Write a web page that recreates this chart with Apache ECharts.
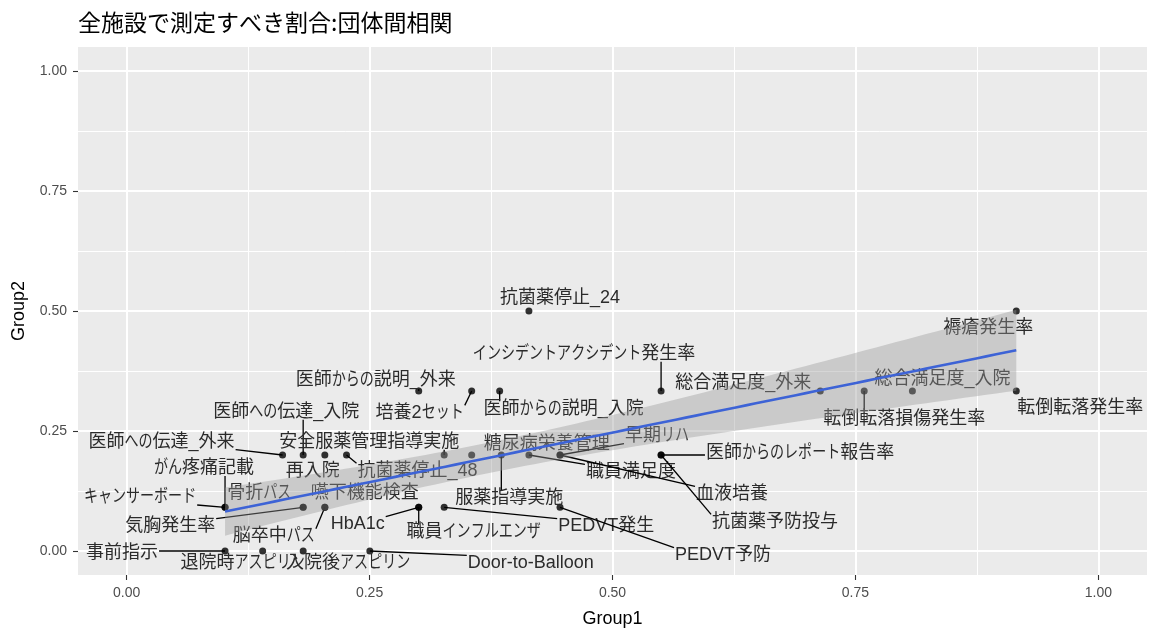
<!DOCTYPE html>
<html>
<head>
<meta charset="utf-8">
<script src="https://cdn.jsdelivr.net/npm/echarts@6/dist/echarts.min.js"></script>
<style>
  html, body { margin: 0; padding: 0; background: #ffffff; }
  #chart { width: 1152px; height: 630px; }
</style>
</head>
<body>
<div id="chart"></div>
<script>
// Indicators and their between-group proportions
const indicatorNames = [
  '抗菌薬停止_24', '褥瘡発生率', 'インシデントアクシデント発生率', '医師からの説明_外来',
  '培養2セット', '医師からの説明_入院', '総合満足度_外来', '転倒転落損傷発生率',
  '総合満足度_入院', '転倒転落発生率', '医師への伝達_入院', '医師への伝達_外来',
  '安全服薬管理指導実施', '糖尿病栄養管理', '早期リハ', '医師からのレポート報告率',
  '再入院', '抗菌薬停止_48', '職員満足度', '血液培養',
  'がん疼痛記載', '服薬指導実施', 'キャンサーボード', '骨折パス',
  '嚥下機能検査', '気胸発生率', 'HbA1c', '職員インフルエンザ',
  'PEDVT発生', 'PEDVT予防', '抗菌薬予防投与', '脳卒中パス',
  '事前指示', '退院時アスピリン', '入院後アスピリン', 'Door-to-Balloon'
];
const group1 = [
  0.414, 0.9155, 0.550, 0.3006,
  0.3551, 0.3839, 0.7138, 0.759,
  0.8086, 0.9155, 0.1817, 0.1605,
  0.3268, 0.3551, 0.446, 0.550,
  0.204, 0.2263, 0.414, 0.446,
  0.1013, 0.3856, 0.1013, 0.1817,
  0.204, 0.1817, 0.3006, 0.3006,
  0.3268, 0.446, 0.550, 0.204,
  0.1013, 0.140, 0.1817, 0.2503
];
const group2 = [
  0.5, 0.5, 0.3333, 0.3333,
  0.3333, 0.3333, 0.3333, 0.3333,
  0.3333, 0.3333, 0.2, 0.2,
  0.2, 0.2, 0.2, 0.2,
  0.2, 0.2, 0.2, 0.2,
  0.0909, 0.2, 0.0909, 0.0909,
  0.0909, 0.0909, 0.0909, 0.0909,
  0.0909, 0.0909, 0.2, 0.0909,
  0, 0, 0, 0
];
const xBreaks = [0, 0.25, 0.5, 0.75, 1];
const yBreaks = [0, 0.25, 0.5, 0.75, 1];
const xMinorBreaks = [0.125, 0.375, 0.625, 0.875];
const yMinorBreaks = [0.125, 0.375, 0.625, 0.875];

// Repelled label placement: pixel nudge from each point, and whether a leader segment is drawn
const labelNudge = [
  [31, -13, 0], [-28, 17, 0], [-77, -37, 1], [-43, -11, 1],
  [-52, 22, 1], [64, 18, 1], [-77, -8, 0], [40, 28, 1],
  [30, -12, 0], [64, 17, 0], [-17, -43, 1], [-121, -13, 1],
  [-75, -13, 1], [75, -11, 0], [97, -19, 1], [139, -2, 1],
  [-12, 16, 0], [71, 16, 1], [102, 17, 1], [172, 39, 1],
  [-21, -39, 1], [8, 43, 1], [-85, -10, 1], [-44, -14, 0],
  [40, -14, 0], [-133, 19, 1], [-61, 17, 1], [55, 25, 1],
  [162, 19, 1], [163, 48, 1], [114, 67, 1], [-51, 29, 1],
  [-103, 2, 1], [-20, 12, 0], [45, 12, 0], [161, 12, 1]
];

// Ordinary least squares fit with a 95% confidence band (as geom_smooth(method = "lm"))
function linearFit(xs, ys) {
  const n = xs.length;
  const mx = xs.reduce((s, v) => s + v, 0) / n;
  const my = ys.reduce((s, v) => s + v, 0) / n;
  let sxx = 0, sxy = 0;
  for (let i = 0; i < n; i++) {
    sxx += (xs[i] - mx) * (xs[i] - mx);
    sxy += (xs[i] - mx) * (ys[i] - my);
  }
  const b = sxy / sxx;
  const a = my - b * mx;
  let sse = 0;
  for (let i = 0; i < n; i++) {
    const r = ys[i] - (a + b * xs[i]);
    sse += r * r;
  }
  return { a, b, mx, sxx, n, s: Math.sqrt(sse / (n - 2)) };
}
// Student t 97.5% quantile (Cornish-Fisher expansion)
function tQuantile975(df) {
  const z = 1.959964;
  const z3 = z * z * z, z5 = z3 * z * z, z7 = z5 * z * z;
  return z + (z3 + z) / (4 * df) + (5 * z5 + 16 * z3 + 3 * z) / (96 * df * df) +
    (3 * z7 + 19 * z5 + 17 * z3 - 15 * z) / (384 * df * df * df);
}
const fit = linearFit(group1, group2);
const tCrit = tQuantile975(fit.n - 2);
const xLo = Math.min(...group1), xHi = Math.max(...group1);
const fitLine = [], bandUpper = [], bandLower = [];
for (let k = 0; k < 80; k++) {
  const x = xLo + (xHi - xLo) * k / 79;
  const yHat = fit.a + fit.b * x;
  const se = fit.s * Math.sqrt(1 / fit.n + (x - fit.mx) * (x - fit.mx) / fit.sxx);
  fitLine.push([x, yHat]);
  bandUpper.push([x, yHat + tCrit * se]);
  bandLower.push([x, yHat - tCrit * se]);
}

// Label typography: kana are set narrower than kanji (proportional kana)
const LABEL_FONT_SIZE = 18;
const LABEL_FONT_FAMILY = '"Liberation Sans", "Noto Sans CJK JP", sans-serif';
const LABEL_COLOR = '#2b2b2b';
const KANA_SCALE = 0.78;
const KANA = /[\u3040-\u30ff]/;
const measureCtx = document.createElement('canvas').getContext('2d');
function textWidth(str) {
  measureCtx.font = LABEL_FONT_SIZE + 'px ' + LABEL_FONT_FAMILY;
  return measureCtx.measureText(str).width;
}
function textRuns(str) {
  const runs = [];
  for (const ch of str) {
    const kana = KANA.test(ch);
    const last = runs[runs.length - 1];
    if (last && last.kana === kana) last.text += ch;
    else runs.push({ text: ch, kana: kana });
  }
  runs.forEach(r => { r.width = textWidth(r.text) * (r.kana ? KANA_SCALE : 1); });
  return runs;
}

const points = group1.map((x, i) => [x, group2[i], i]);

const axisCommon = {
  type: 'value',
  min: -0.05,
  max: 1.05,
  axisLine: { show: false, onZero: false }
};

const chart = echarts.init(document.getElementById('chart'), null, { renderer: 'canvas' });
chart.setOption({
  animation: false,
  backgroundColor: '#ffffff',
  title: {
    text: '全施設で測定すべき割合:団体間相関',
    left: 73,
    top: 6,
    textStyle: {
      fontSize: 23,
      fontWeight: 'normal',
      color: '#000000',
      fontFamily: '"Noto Sans CJK JP", sans-serif'
    }
  },
  grid: {
    left: 78, right: 5, top: 47, bottom: 55,
    show: true,
    backgroundColor: '#EBEBEB',
    borderWidth: 0,
    containLabel: false,
    outerBoundsMode: 'none'
  },
  xAxis: [
    Object.assign({}, axisCommon, {
      position: 'bottom',
      name: 'Group1',
      nameLocation: 'middle',
      nameGap: 35,
      nameMoveOverlap: false,
      nameTextStyle: { color: '#000000', fontSize: 18, fontFamily: '"Liberation Sans", sans-serif' },
      axisTick: { show: true, length: 5, lineStyle: { color: '#333333', width: 1.1 }, customValues: xBreaks },
      axisLabel: {
        customValues: xBreaks,
        formatter: v => v.toFixed(2),
        color: '#4D4D4D', fontSize: 14, margin: 11,
        fontFamily: '"Liberation Sans", sans-serif'
      },
      splitLine: { show: true, lineStyle: { color: '#ffffff', width: 2 } }
    }),
    Object.assign({}, axisCommon, {
      position: 'top',
      axisTick: { show: false, customValues: xMinorBreaks },
      axisLabel: { show: false, customValues: xMinorBreaks },
      splitLine: { show: true, lineStyle: { color: '#ffffff', width: 1 } }
    })
  ],
  yAxis: [
    Object.assign({}, axisCommon, {
      position: 'left',
      name: 'Group2',
      nameLocation: 'middle',
      nameGap: 50,
      nameRotate: 90,
      nameMoveOverlap: false,
      nameTextStyle: { color: '#000000', fontSize: 18, fontFamily: '"Liberation Sans", sans-serif' },
      axisTick: { show: true, length: 5, lineStyle: { color: '#333333', width: 1.1 }, customValues: yBreaks },
      axisLabel: {
        customValues: yBreaks,
        formatter: v => v.toFixed(2),
        color: '#4D4D4D', fontSize: 14, margin: 11,
        fontFamily: '"Liberation Sans", sans-serif'
      },
      splitLine: { show: true, lineStyle: { color: '#ffffff', width: 2 } }
    }),
    Object.assign({}, axisCommon, {
      position: 'right',
      axisTick: { show: false, customValues: yMinorBreaks },
      axisLabel: { show: false, customValues: yMinorBreaks },
      splitLine: { show: true, lineStyle: { color: '#ffffff', width: 1 } }
    })
  ],
  series: [
    {
      name: 'points',
      type: 'scatter',
      z: 2,
      symbol: 'circle',
      symbolSize: 7,
      itemStyle: { color: '#000000' },
      data: points,
      silent: true
    },
    {
      name: 'labels',
      type: 'custom',
      z: 3,
      silent: true,
      data: points,
      renderItem: function (params, api) {
        const i = api.value(2);
        const p = api.coord([api.value(0), api.value(1)]);
        const nudge = labelNudge[i];
        const runs = textRuns(indicatorNames[i]);
        const w = runs.reduce((s, r) => s + r.width, 0);
        const cx = p[0] + nudge[0];
        const cy = p[1] + nudge[1];
        const h = LABEL_FONT_SIZE * 0.85;
        const children = [];
        if (nudge[2]) {
          const halfW = w / 2 + 1;
          const nx = Math.min(Math.max(p[0], cx - halfW), cx + halfW);
          const ny = Math.min(Math.max(p[1], cy - h / 2), cy + h / 2);
          children.push({
            type: 'line',
            shape: { x1: p[0], y1: p[1], x2: nx, y2: ny },
            style: { stroke: '#000000', lineWidth: 1.3 }
          });
        }
        let x = cx - w / 2;
        runs.forEach(r => {
          children.push({
            type: 'text',
            x: x,
            y: cy,
            scaleX: r.kana ? KANA_SCALE : 1,
            style: {
              text: r.text,
              x: 0,
              y: 0,
              align: 'left',
              verticalAlign: 'middle',
              fontSize: LABEL_FONT_SIZE,
              fontFamily: LABEL_FONT_FAMILY,
              fill: LABEL_COLOR
            }
          });
          x += r.width;
        });
        return { type: 'group', children: children };
      }
    },
    {
      name: 'confidence band',
      type: 'custom',
      z: 4,
      silent: true,
      data: [[fitLine[0][0], fitLine[0][1]]],
      renderItem: function (params, api) {
        const pts = bandUpper.map(d => api.coord(d))
          .concat(bandLower.slice().reverse().map(d => api.coord(d)));
        return {
          type: 'polygon',
          shape: { points: pts },
          style: { fill: 'rgba(153,153,153,0.4)' }
        };
      }
    },
    {
      name: 'fit',
      type: 'line',
      z: 5,
      silent: true,
      showSymbol: false,
      symbol: 'none',
      data: fitLine,
      lineStyle: { color: '#3D63D6', width: 2.6 }
    }
  ]
});
</script>
</body>
</html>
